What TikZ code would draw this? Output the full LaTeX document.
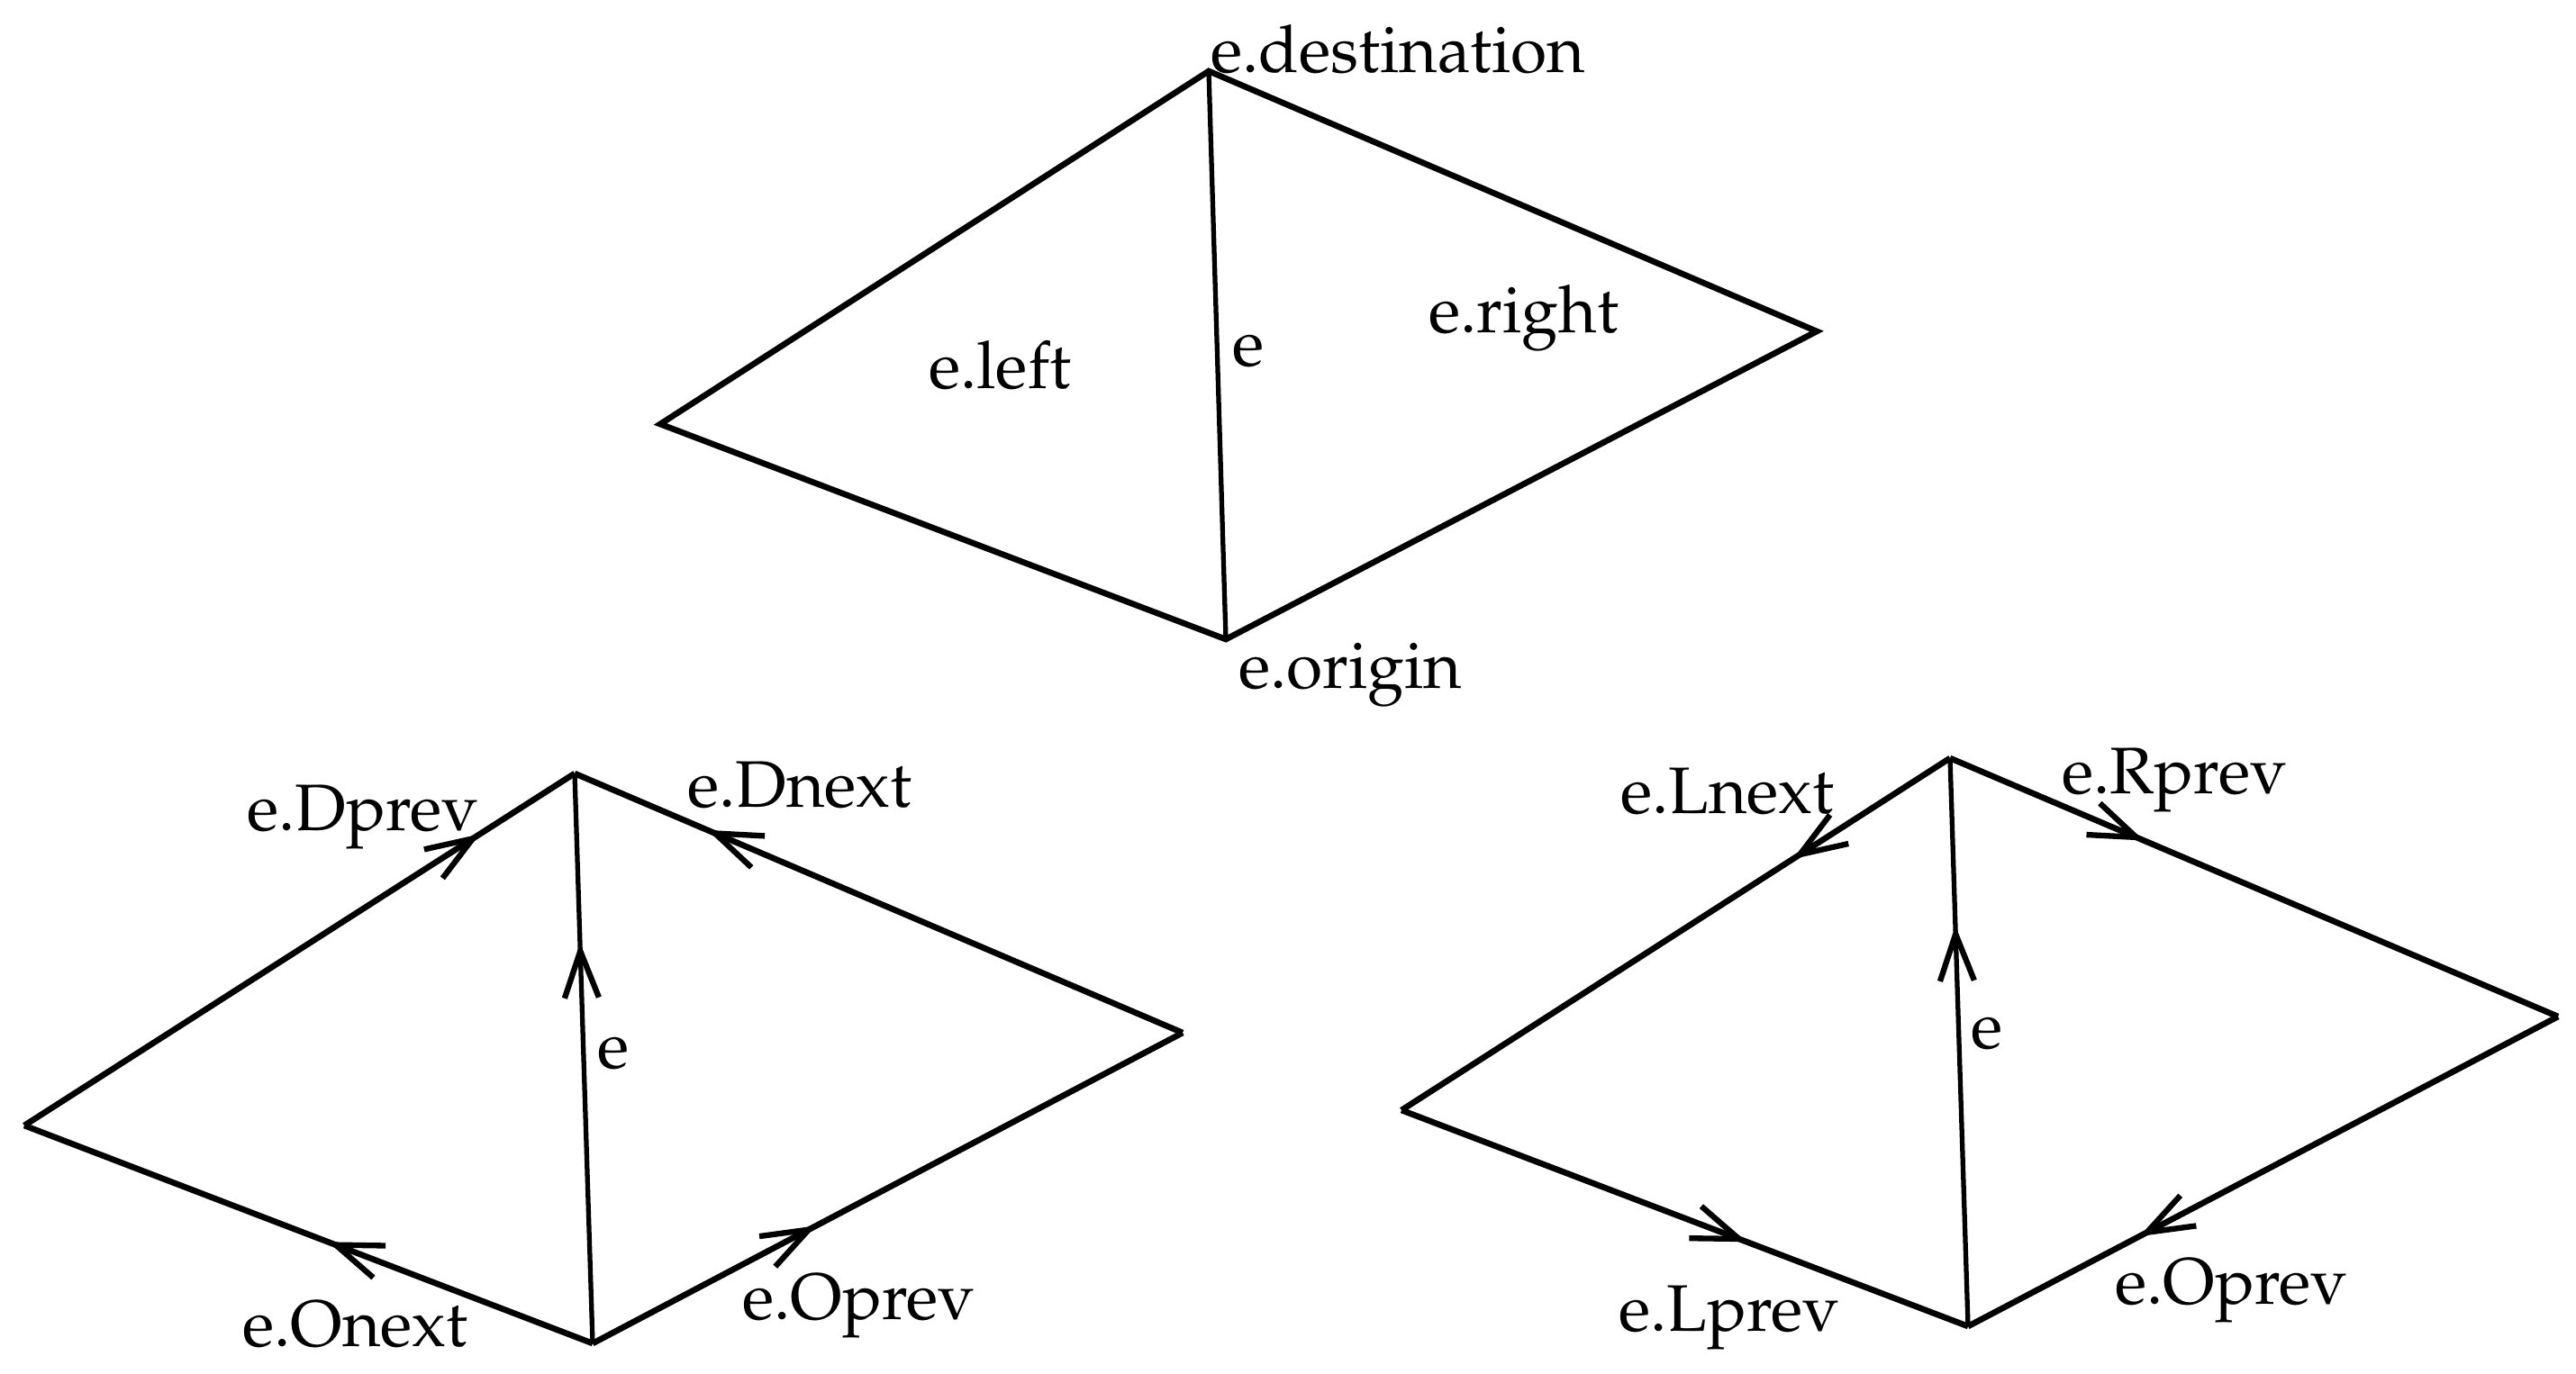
\documentclass[tikz,border=0pt]{standalone}
\usepackage[T1]{fontenc}
\usepackage{mathpazo}
\usetikzlibrary{arrows.meta,decorations.markings}

\tikzset{
  edgeline/.style={line width=0.95pt, line join=miter},
  primline/.style={line width=0.75pt},
  halfedge/.style={postaction={decorate}, decoration={markings,
    mark=at position #1 with {\arrow{Straight Barb[length=0.26cm, width=0.19cm, line width=0.9pt]}}}},
  lab/.style={anchor=base west, inner sep=0pt}
}

\begin{document}
\begin{tikzpicture}[font=\fontsize{10.4}{12}\selectfont]
  \useasboundingbox (0,0) rectangle (14.3,-7.625);

  % Top: the edge and its faces
  \coordinate (tD) at (6.71,-0.395);
  \coordinate (tL) at (3.665,-2.355);
  \coordinate (tO) at (6.805,-3.55);
  \coordinate (tR) at (10.085,-1.84);
  \draw[edgeline] (tD) -- (tL) -- (tO) -- (tR) -- cycle;
  \draw[primline] (tO) -- (tD);
  \node[lab] (dest) at (6.715,-0.405) {e.destination};
  \node[lab] (left) at (5.15,-2.16) {e.left};
  \node[lab] (etop) at (6.835,-2.035) {e};
  \node[lab] (right) at (7.925,-1.85) {e.right};
  \node[lab] (orig) at (6.87,-3.82) {e.origin};

  % Bottom left: origin and destination rings
  \coordinate (aT) at (3.19,-4.295);
  \coordinate (aL) at (0.135,-6.25);
  \coordinate (aB) at (3.29,-7.46);
  \coordinate (aR) at (6.565,-5.735);
  \draw[edgeline, halfedge=0.828] (aL) -- (aT);
  \draw[edgeline, halfedge=0.782] (aR) -- (aT);
  \draw[edgeline, halfedge=0.466] (aB) -- (aL);
  \draw[edgeline, halfedge=0.379] (aB) -- (aR);
  \draw[primline, halfedge=0.703] (aB) -- (aT);
  \node[lab] (dprev) at (1.365,-4.61) {e.Dprev};
  \node[lab] (dnext) at (3.81,-4.48) {e.Dnext};
  \node[lab] (ea) at (3.31,-5.93) {e};
  \node[lab] (onext) at (1.34,-7.475) {e.Onext};
  \node[lab] (oprevA) at (4.115,-7.325) {e.Oprev};

  % Bottom right: left and right rings
  \coordinate (bT) at (10.825,-4.21);
  \coordinate (bL) at (7.78,-6.165);
  \coordinate (bB) at (10.925,-7.365);
  \coordinate (bR) at (14.2,-5.645);
  \draw[edgeline, halfedge=0.287] (bT) -- (bL);
  \draw[edgeline, halfedge=0.319] (bT) -- (bR);
  \draw[edgeline, halfedge=0.610] (bL) -- (bB);
  \draw[edgeline, halfedge=0.710] (bR) -- (bB);
  \draw[primline, halfedge=0.705] (bB) -- (bT);
  \node[lab] (lnext) at (8.99,-4.515) {e.Lnext};
  \node[lab] (rprev) at (11.44,-4.405) {e.Rprev};
  \node[lab] (eb) at (10.935,-5.82) {e};
  \node[lab] (lprev) at (8.98,-7.39) {e.Lprev};
  \node[lab] (oprevB) at (11.735,-7.24) {e.Oprev};
\end{tikzpicture}
\end{document}
